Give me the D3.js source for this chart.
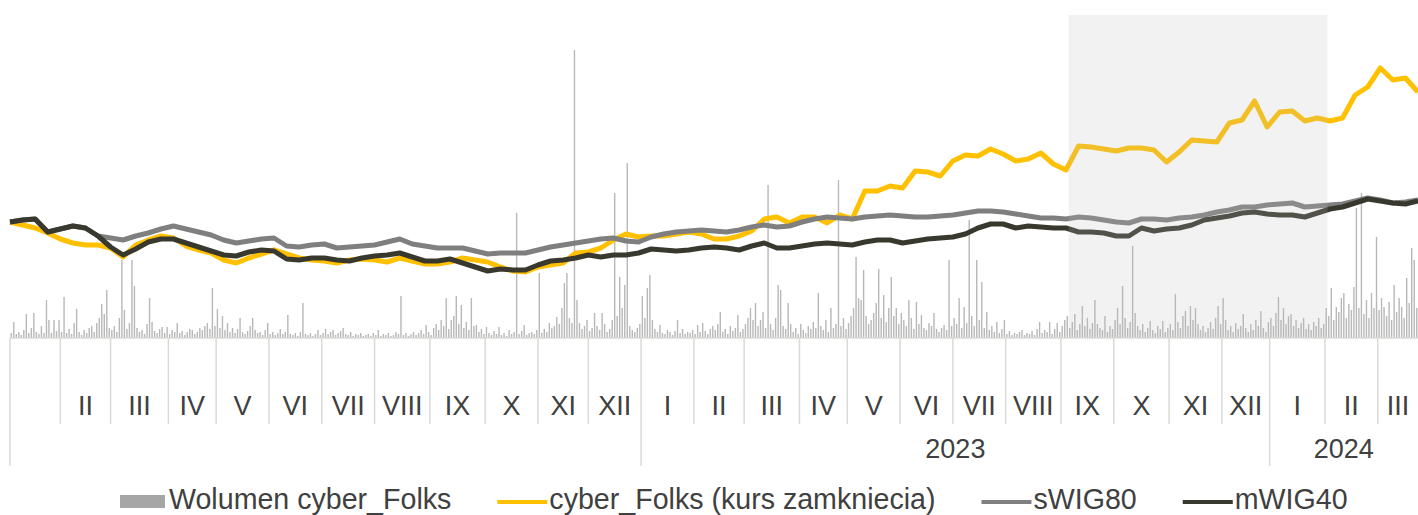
<!DOCTYPE html>
<html>
<head>
<meta charset="utf-8">
<script src="https://cdn.jsdelivr.net/npm/d3@7"></script>
<style>
  body { margin: 0; background: #fff; }
  text { font-family: "Liberation Sans", Arial, sans-serif; fill: #404040; }
</style>
</head>
<body>
<svg id="chart" width="1418" height="515"></svg>
<script>
// Trading days per month (session axis, not calendar)
const days2022 = [20, 20, 23, 19, 21, 21, 21, 22, 22, 21, 20, 21];
const days2023 = [21, 20, 22, 19, 21, 21, 21, 22, 21, 22, 21, 19];
const days2024 = [22, 21, 16];
const monthNames = ['I', 'II', 'III', 'IV', 'V', 'VI', 'VII', 'VIII', 'IX', 'X', 'XI', 'XII'];
const yearLabels = ['', '2023', '2024']; // 2022 not labelled in the original

// highlighted period (session index), IX 2023 - I 2024
const shadeFrom = 421;
const shadeTo = 524;

// lines sampled every 5 sessions, index = 100 at start
const sampleStep = 5;
const cyberFolks = [100, 97, 94, 89, 83, 79, 77, 77, 74, 65,
	77, 82, 86, 84, 76, 72, 69, 62, 59, 64,
	68, 72, 68, 64, 62, 61, 59, 62, 63, 62,
	60, 64, 61, 58, 58, 60, 64, 62, 60, 55,
	51, 50, 55, 57, 59, 69, 70, 74, 82, 88,
	85, 86, 86, 88, 90, 88, 83, 83, 86, 91,
	103, 105, 99, 105, 105, 99, 107, 103, 131, 131,
	136, 134, 151, 150, 146, 161, 167, 166, 173, 168,
	161, 163, 169, 158, 152, 176, 175, 173, 171, 174,
	174, 172, 160, 170, 182, 181, 180, 199, 202, 221,
	195, 210, 211, 201, 204, 201, 204, 227, 235, 254,
	242, 244, 230];
const sWIG80 = [100, 102, 103, 90, 93, 96, 94, 86, 84, 82,
	86, 89, 93, 96, 93, 90, 87, 82, 79, 81,
	83, 84, 76, 75, 77, 78, 74, 75, 76, 77,
	80, 83, 78, 76, 74, 74, 74, 71, 68, 69,
	69, 69, 72, 75, 77, 79, 81, 83, 84, 81,
	80, 85, 88, 90, 91, 92, 91, 90, 92, 95,
	97, 95, 96, 100, 103, 105, 104, 103, 105, 106,
	107, 106, 105, 105, 106, 107, 109, 111, 111, 110,
	108, 106, 104, 104, 103, 105, 104, 102, 100, 99,
	103, 103, 102, 104, 105, 107, 110, 112, 115, 115,
	117, 118, 119, 115, 116, 117, 118, 121, 124, 122,
	119, 120, 122];
const mWIG40 = [100, 102, 103, 90, 93, 96, 94, 86, 75, 67,
	73, 80, 83, 83, 79, 75, 71, 67, 66, 70,
	72, 71, 63, 62, 64, 64, 62, 61, 64, 66,
	67, 69, 65, 61, 61, 63, 59, 55, 51, 53,
	52, 52, 57, 61, 62, 64, 67, 65, 67, 67,
	69, 73, 72, 71, 72, 74, 75, 74, 72, 76,
	79, 74, 74, 76, 78, 79, 78, 77, 80, 82,
	82, 79, 81, 83, 84, 85, 88, 94, 98, 98,
	94, 96, 95, 94, 94, 90, 90, 89, 86, 86,
	94, 91, 93, 94, 97, 102, 104, 106, 109, 110,
	108, 107, 107, 105, 109, 113, 115, 119, 123, 121,
	119, 118, 121];

// daily volume (thousands of shares)
const volume = [5, 16, 4, 6, 3, 8, 24, 5, 10, 25,
	6, 4, 12, 5, 38, 18, 5, 18, 7, 18,
	6, 41, 5, 9, 4, 15, 29, 6, 3, 8,
	5, 10, 12, 6, 15, 20, 34, 24, 48, 10,
	8, 12, 6, 20, 78, 28, 9, 15, 78, 52,
	10, 6, 8, 4, 14, 40, 16, 7, 5, 9,
	11, 5, 11, 4, 8, 6, 15, 5, 7, 3,
	6, 9, 8, 4, 6, 10, 8, 12, 15, 9,
	50, 12, 29, 10, 22, 8, 15, 6, 10, 5,
	9, 20, 6, 4, 7, 12, 20, 8, 5, 6,
	3, 8, 15, 4, 6, 3, 5, 9, 4, 6,
	23, 4, 3, 5, 2, 6, 35, 4, 3, 5,
	2, 4, 8, 3, 5, 9, 4, 6, 8, 3,
	5, 7, 10, 4, 3, 6, 2, 4, 3, 5,
	2, 3, 4, 2, 5, 3, 8, 2, 4, 3,
	5, 2, 3, 6, 4, 42, 3, 5, 2, 4,
	6, 3, 5, 8, 4, 13, 6, 3, 10, 14,
	8, 18, 12, 40, 9, 18, 22, 42, 14, 33,
	10, 16, 8, 40, 12, 13, 6, 9, 4, 11,
	5, 3, 7, 4, 11, 3, 5, 2, 8, 4,
	6, 125, 4, 7, 13, 3, 5, 6, 4, 8,
	65, 5, 9, 6, 15, 10, 12, 21, 14, 30,
	55, 65, 20, 15, 288, 38, 15, 9, 12, 18,
	7, 10, 25, 12, 8, 25, 14, 6, 9, 18,
	145, 22, 61, 30, 53, 175, 12, 8, 6, 10,
	14, 42, 20, 50, 63, 18, 9, 6, 13, 5,
	4, 8, 6, 3, 7, 18, 5, 9, 4, 6,
	5, 8, 4, 13, 6, 15, 7, 4, 9, 12,
	8, 14, 26, 6, 9, 4, 12, 7, 10, 23,
	6, 9, 14, 20, 30, 18, 35, 12, 18, 26,
	10, 153, 14, 8, 20, 53, 48, 12, 9, 35,
	14, 6, 10, 4, 14, 8, 5, 12, 9, 16,
	10, 45, 12, 8, 18, 6, 30, 10, 14, 158,
	12, 20, 9, 15, 22, 30, 81, 40, 38, 68,
	22, 14, 18, 25, 35, 69, 20, 43, 16, 30,
	61, 22, 30, 14, 25, 18, 12, 38, 20, 9,
	36, 14, 23, 10, 8, 15, 12, 25, 9, 6,
	10, 13, 8, 78, 12, 20, 14, 40, 10, 31,
	15, 118, 22, 12, 78, 18, 56, 10, 26, 8,
	12, 6, 16, 5, 9, 18, 4, 7, 3, 5,
	4, 6, 8, 3, 5, 4, 7, 3, 9, 16,
	5, 8, 6, 16, 4, 9, 15, 6, 12, 18,
	22, 10, 16, 24, 8, 14, 32, 12, 20, 9,
	15, 38, 14, 10, 8, 22, 6, 12, 9, 18,
	30, 14, 52, 20, 10, 16, 92, 25, 12, 8,
	14, 6, 10, 17, 8, 5, 12, 9, 17, 6,
	10, 14, 8, 44, 16, 10, 22, 27, 12, 32,
	18, 30, 14, 8, 12, 6, 10, 16, 9, 20,
	32, 14, 40, 18, 8, 12, 6, 15, 9, 12,
	24, 10, 6, 14, 8, 18, 12, 27, 10, 6,
	16, 20, 12, 25, 41, 18, 30, 14, 22, 24,
	12, 18, 10, 15, 20, 9, 14, 8, 16, 12,
	20, 10, 14, 30, 22, 50, 18, 31, 26, 40,
	45, 20, 34, 28, 51, 130, 30, 145, 24, 38,
	20, 45, 30, 101, 28, 40, 31, 22, 36, 18,
	53, 26, 40, 31, 20, 60, 35, 90, 78, 30];

const svg = d3.select('#chart');
const totalDays = d3.sum(days2022) + d3.sum(days2023) + d3.sum(days2024);

// scales
const xScale = d3.scaleLinear().domain([0, totalDays]).range([10, 1418]);
const yScale = d3.scaleLinear().domain([0, 300]).range([322, 22]);
const volScale = d3.scaleLinear().domain([0, 300]).range([338, 38]);

const axisY = 338;
const gridColor = '#dadad6';

// build month / year segments
const months = [];
const years = [];
let start = 0;
[days2022, days2023, days2024].forEach((yd, yi) => {
	const yStart = start;
	yd.forEach((n, mi) => {
		months.push({ label: monthNames[mi], start: start, end: start + n, first: mi === 0 });
		start += n;
	});
	years.push({ label: yearLabels[yi], start: yStart, end: start });
});
months[0].label = ''; // first (partial) month has no label in the original

// volume bars
const step = xScale(1) - xScale(0);
svg.append('g')
	.attr('class', 'bars')
	.selectAll('rect')
	.data(volume)
	.enter()
	.append('rect')
		.attr('x', (d, i) => xScale(i + 0.5) - step * 0.28)
		.attr('width', step * 0.56)
		.attr('y', d => volScale(d))
		.attr('height', d => axisY - volScale(d))
		.attr('fill', '#b8b8b8');

// lines
const line = d3.line()
	.x((d, i) => xScale(Math.min(i * sampleStep, totalDays)))
	.y(d => yScale(d));

const series = [
	{ name: 'cyber_Folks', values: cyberFolks, color: '#ffc000' },
	{ name: 'sWIG80', values: sWIG80, color: '#7f7f7f' },
	{ name: 'mWIG40', values: mWIG40, color: '#38382f' }
];

svg.append('g')
	.attr('class', 'lines')
	.selectAll('path')
	.data(series)
	.enter()
	.append('path')
		.attr('d', d => line(d.values))
		.attr('fill', 'none')
		.attr('stroke', d => d.color)
		.attr('stroke-width', 5)
		.attr('stroke-linejoin', 'round');

// highlighted period drawn over the series
svg.append('rect')
	.attr('x', xScale(shadeFrom))
	.attr('y', 15)
	.attr('width', xScale(shadeTo) - xScale(shadeFrom))
	.attr('height', axisY - 15)
	.attr('fill', '#bfbfbf')
	.attr('opacity', 0.2);

// x axis: baseline, month ticks, year ticks
const axis = svg.append('g').attr('class', 'axis-x');

axis.append('line')
	.attr('x1', xScale(0)).attr('x2', xScale(totalDays))
	.attr('y1', axisY).attr('y2', axisY)
	.attr('stroke', gridColor).attr('stroke-width', 1.5);

axis.selectAll('.tick-month')
	.data(months)
	.enter()
	.append('line')
		.attr('class', 'tick-month')
		.attr('x1', d => xScale(d.start)).attr('x2', d => xScale(d.start))
		.attr('y1', axisY)
		.attr('y2', d => d.first ? 466 : 424)
		.attr('stroke', gridColor)
		.attr('stroke-width', 1.5);

axis.selectAll('.label-month')
	.data(months)
	.enter()
	.append('text')
		.attr('class', 'label-month')
		.attr('x', d => xScale((d.start + d.end) / 2))
		.attr('y', 415)
		.attr('text-anchor', 'middle')
		.style('font-size', '27px')
		.text(d => d.label);

axis.selectAll('.label-year')
	.data(years)
	.enter()
	.append('text')
		.attr('class', 'label-year')
		.attr('x', d => xScale((d.start + d.end) / 2))
		.attr('y', 458)
		.attr('text-anchor', 'middle')
		.style('font-size', '27px')
		.text(d => d.label);

// legend
const legendItems = [
	{ label: 'Wolumen cyber_Folks', type: 'rect', color: '#a6a6a6' },
	{ label: 'cyber_Folks (kurs zamkniecia)', type: 'line', color: '#ffc000' },
	{ label: 'sWIG80', type: 'line', color: '#7f7f7f' },
	{ label: 'mWIG40', type: 'line', color: '#38382f' }
];

const legend = svg.append('g').attr('class', 'legend');
let lx = 120;
legendItems.forEach(item => {
	if (item.type === 'rect') {
		legend.append('rect')
			.attr('x', lx).attr('y', 495)
			.attr('width', 45).attr('height', 13)
			.attr('fill', item.color);
	} else {
		legend.append('line')
			.attr('x1', lx).attr('x2', lx + 50)
			.attr('y1', 502).attr('y2', 502)
			.attr('stroke', item.color)
			.attr('stroke-width', 4);
	}
	const markW = item.type === 'rect' ? 49 : 52;
	const t = legend.append('text')
		.attr('x', lx + markW)
		.attr('y', 509)
		.style('font-size', '28.6px')
		.text(item.label);
	lx += markW + t.node().getComputedTextLength() + 46;
});
</script>
</body>
</html>
